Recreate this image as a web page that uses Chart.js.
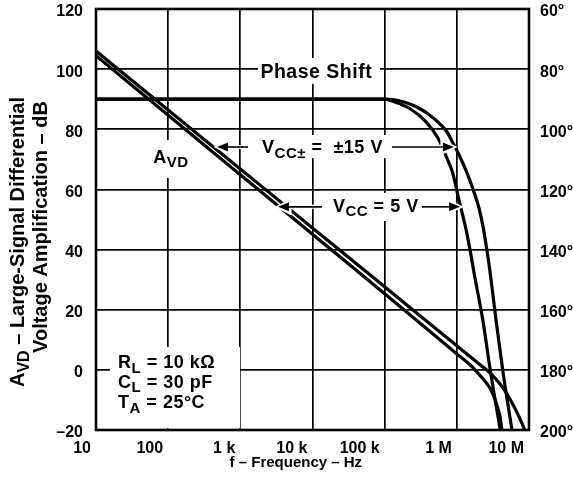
<!DOCTYPE html>
<html>
<head>
<meta charset="utf-8">
<script src="https://cdn.jsdelivr.net/npm/chart.js@4.4.1/dist/chart.umd.min.js"></script>
<style>
html,body{margin:0;padding:0;background:#fff;}
#wrap{width:573px;height:485px;position:relative;}
</style>
</head>
<body>
<div id="wrap"><canvas id="c"></canvas></div>
<script>
const FONT = '"Liberation Sans", Arial, Helvetica, sans-serif';

// x axis: frequency (Hz), decade ticks
const freqTicks = [10, 100, 1e3, 1e4, 1e5, 1e6, 1e7];
const freqTickLabels = ['10', '100', '1 k', '10 k', '100 k', '1 M', '10 M'];
// left axis: gain (dB), right axis: phase (deg)
const gainTicks = [-20, 0, 20, 40, 60, 80, 100, 120];
const phaseTicks = [60, 80, 100, 120, 140, 160, 180, 200];

// AVD, VCC± = ±15 V
const gainFreq15 = [10, 100, 1e3, 1e4, 1e5, 1e6, 2.0e6, 3.0e6, 4.0e6, 5.0e6, 6.3e6, 7.9e6, 8.7e6];
const gainDb15   = [106, 86.4, 66.8, 47.2, 27.6, 8.0, 2.1, -1.4, -4.8, -8.2, -12.5, -17.5, -20];
// AVD, VCC = 5 V
const gainFreq5 = [10, 100, 1e3, 1e4, 1e5, 1e6, 1.6e6, 2.0e6, 2.5e6, 2.9e6, 3.3e6, 3.7e6, 4.0e6, 4.2e6];
const gainDb5   = [104.5, 84.7, 64.9, 45.1, 25.3, 5.3, 1.2, -1.3, -4, -6.2, -9.2, -12.8, -16, -20];
// Phase shift, VCC± = ±15 V
const phaseFreq15 = [10, 1e5, 1.3e5, 1.9e5, 2.8e5, 4.7e5, 7.3e5, 8.85e5, 1.107e6, 1.384e6, 1.73e6, 2.03e6, 2.30e6, 2.535e6, 2.79e6, 3.07e6, 3.49e6, 4.36e6, 5.81e6];
const phaseDeg15  = [90, 90, 90.1, 91.0, 92.6, 96.2, 100.9, 104.6, 109.2, 114.5, 120.9, 126.2, 132.2, 138.2, 144.8, 152.5, 163.4, 180.7, 200];
// Phase shift, VCC = 5 V
const phaseFreq5 = [10, 1e5, 1.3e5, 2.2e5, 3.8e5, 5.5e5, 7.2e5, 8.7e5, 1.07e6, 1.38e6, 1.78e6, 2.3e6, 2.9e6, 4.0e6];
const phaseDeg5  = [90, 90, 90.7, 93, 97.7, 103, 109.3, 114.3, 123.5, 134.7, 149.3, 163.7, 180, 200];

// in-plot labels, anchored in data units [freq, dB]; parts: [text, isSubscript]
const textLabels = [
  {f: 1.9e3, db: 97.0, size: 19.5, parts: [['Phase Shift', 0]]},
  {f: 62, db: 68.8, size: 18, parts: [['A', 0], ['VD', 1]]},
  {f: 2.0e3, db: 72.1, size: 18, parts: [['V', 0], ['CC\u00b1', 1], [' =  \u00b115 V', 0]]},
  {f: 1.92e4, db: 52.5, size: 18, parts: [['V', 0], ['CC', 1], [' = 5 V', 0]]},
  {f: 20.2, db: 0.6, size: 18, parts: [['R', 0], ['L', 1], [' = 10 k\u03a9', 0]]},
  {f: 20.2, db: -6.0, size: 18, parts: [['C', 0], ['L', 1], [' = 30 pF', 0]]},
  {f: 20.2, db: -12.7, size: 18, parts: [['T', 0], ['A', 1], [' = 25\u00b0C', 0]]}
];
// white boxes behind labels [f1, f2, dbTop, dbBottom]
const maskBoxes = [
  [1.76e3, 8.6e4, 103.7, 95.1],
  [52.5, 235, 76.4, 63.8],
  [1.76e3, 1.19e5, 78.1, 70.4],
  [1.64e4, 3.08e5, 58.8, 49.5],
  [15.6, 990, 7.6, -19.4]
];
// arrows [tailFreq, tipFreq, dB]
const arrows = [
  [1.28e3, 475, 74.1],
  [1.26e5, 9.1e5, 74.1],
  [1.35e4, 3.33e3, 54.2],
  [3.29e5, 1.11e6, 54.2]
];

function rich(ctx, parts, x, y, size, subSize, subDy, align, spacing) {
  ctx.letterSpacing = (spacing || 0) + 'px';
  let w = 0;
  const ws = parts.map(p => {
    ctx.font = 'bold ' + (p[1] ? subSize : size) + 'px ' + FONT;
    const m = ctx.measureText(p[0]).width; w += m; return m;
  });
  let cx = align === 'center' ? x - w / 2 : x;
  ctx.textBaseline = 'alphabetic';
  ctx.textAlign = 'left';
  parts.forEach((p, i) => {
    ctx.font = 'bold ' + (p[1] ? subSize : size) + 'px ' + FONT;
    ctx.fillText(p[0], cx, y + (p[1] ? subDy : 0));
    cx += ws[i];
  });
  ctx.letterSpacing = '0px';
}

function drawArrow(ctx, x1, y, x2) {
  const dir = Math.sign(x2 - x1), L = 11, W = 4.5;
  const bx = x2 - dir * L;
  ctx.strokeStyle = '#fff'; ctx.fillStyle = '#fff'; ctx.lineWidth = 4;
  ctx.beginPath(); ctx.moveTo(x1, y); ctx.lineTo(bx, y); ctx.stroke();
  ctx.beginPath(); ctx.moveTo(x2 - dir * 2, y); ctx.lineTo(bx, y - W); ctx.lineTo(bx, y + W); ctx.closePath();
  ctx.lineWidth = 5; ctx.stroke();
  ctx.strokeStyle = '#000'; ctx.fillStyle = '#000'; ctx.lineWidth = 1.6;
  ctx.beginPath(); ctx.moveTo(x1, y); ctx.lineTo(bx, y); ctx.stroke();
  ctx.beginPath(); ctx.moveTo(x2, y); ctx.lineTo(bx, y - W); ctx.lineTo(bx, y + W); ctx.closePath(); ctx.fill();
}

const labelPlugin = {
  id: 'labels',
  beforeDatasetsDraw(chart) {
    const {ctx} = chart;
    const X = f => chart.scales.x.getPixelForValue(f);
    const Y = d => chart.scales.y.getPixelForValue(d);
    ctx.save();
    ctx.fillStyle = '#fff';
    maskBoxes.forEach(b => {
      const x1 = X(b[0]), x2 = X(b[1]), y1 = Y(b[2]), y2 = Y(b[3]);
      ctx.fillRect(x1, y1, x2 - x1, y2 - y1);
    });
    ctx.fillStyle = '#000';
    textLabels.forEach(t => rich(ctx, t.parts, X(t.f), Y(t.db), t.size, 15, 4.5, 'left', 0.5));
    ctx.restore();
  },
  afterDatasetsDraw(chart) {
    const {ctx, chartArea: a} = chart;
    const X = f => chart.scales.x.getPixelForValue(f);
    const Y = d => chart.scales.y.getPixelForValue(d);
    ctx.save();
    arrows.forEach(r => drawArrow(ctx, X(r[0]), Y(r[2]), X(r[1])));
    ctx.strokeStyle = '#000'; ctx.lineWidth = 2.6;
    ctx.strokeRect(a.left, a.top, a.right - a.left, a.bottom - a.top);
    ctx.restore();
  },
  afterDraw(chart) {
    const {ctx} = chart;
    ctx.save();
    ctx.fillStyle = '#000';
    ctx.translate(24, 242); ctx.rotate(-Math.PI / 2);
    rich(ctx, [['A', 0], ['VD', 1], [' \u2013 Large-Signal Differential', 0]], 0, 0, 20, 16, 4.5, 'center', 0);
    ctx.restore();
    ctx.save();
    ctx.fillStyle = '#000';
    ctx.translate(47, 227); ctx.rotate(-Math.PI / 2);
    rich(ctx, [['Voltage Amplification \u2013 dB', 0]], 0, 0, 20, 16, 4.5, 'center', 0);
    ctx.restore();
  }
};

const pts = (xs, ys) => xs.map((x, i) => ({x: x, y: ys[i]}));
const lineDs = (label, xs, ys, axis) => ({
  label: label, data: pts(xs, ys), yAxisID: axis,
  borderColor: '#000', borderWidth: 3.2, pointRadius: 0, fill: false,
  cubicInterpolationMode: 'monotone'
});

const tickFont = {family: FONT, size: 16, weight: 'bold'};
const noPadV = s => { s.paddingTop = 0; s.paddingBottom = 0; };

new Chart(document.getElementById('c'), {
  type: 'line',
  data: {
    datasets: [
      lineDs('AVD, VCC\u00b1 = \u00b115 V', gainFreq15, gainDb15, 'y'),
      lineDs('AVD, VCC = 5 V', gainFreq5, gainDb5, 'y'),
      lineDs('Phase Shift, VCC\u00b1 = \u00b115 V', phaseFreq15, phaseDeg15, 'y2'),
      lineDs('Phase Shift, VCC = 5 V', phaseFreq5, phaseDeg5, 'y2')
    ]
  },
  options: {
    responsive: true, maintainAspectRatio: false, animation: false,
    layout: {padding: {top: 9, left: 0, right: 0, bottom: 0}},
    plugins: {legend: {display: false}, tooltip: {enabled: false}},
    scales: {
      x: {
        type: 'logarithmic', position: 'bottom',
        min: freqTicks[0], max: freqTicks[freqTicks.length - 1],
        afterBuildTicks: s => { s.ticks = freqTicks.map(v => ({value: v})); },
        afterFit: s => { s.height = 55; s.paddingLeft = 0; s.paddingRight = 0; },
        ticks: {
          callback: (v, i) => freqTickLabels[i],
          align: 'end', labelOffset: -5, padding: 9,
          font: tickFont, color: '#000', autoSkip: false, maxRotation: 0
        },
        grid: {color: '#000', lineWidth: 1.7, drawTicks: false},
        border: {display: false},
        title: {
          display: true, text: 'f \u2013 Frequency \u2013 Hz' + '\u00a0'.repeat(8),
          font: {family: FONT, size: 15, weight: 'bold'}, color: '#000', padding: {top: 0, bottom: 13}
        }
      },
      y: {
        position: 'left', min: gainTicks[0], max: gainTicks[gainTicks.length - 1],
        afterBuildTicks: s => { s.ticks = gainTicks.map(v => ({value: v})); },
        afterFit: s => { s.width = 96; noPadV(s); },
        ticks: {
          callback: v => (v < 0 ? '\u2013' + Math.abs(v) : String(v)),
          padding: 13, labelOffset: 3, font: tickFont, color: '#000'
        },
        grid: {color: '#000', lineWidth: 1.7, drawTicks: false},
        border: {display: false}
      },
      y2: {
        position: 'right', reverse: true,
        min: phaseTicks[0], max: phaseTicks[phaseTicks.length - 1],
        afterBuildTicks: s => { s.ticks = phaseTicks.map(v => ({value: v})); },
        afterFit: s => { s.width = 44; noPadV(s); },
        ticks: {
          callback: v => v + '\u00b0',
          padding: 11, labelOffset: 3, font: tickFont, color: '#000'
        },
        grid: {display: false, drawTicks: false},
        border: {display: false}
      }
    }
  },
  plugins: [labelPlugin]
});
</script>
</body>
</html>
